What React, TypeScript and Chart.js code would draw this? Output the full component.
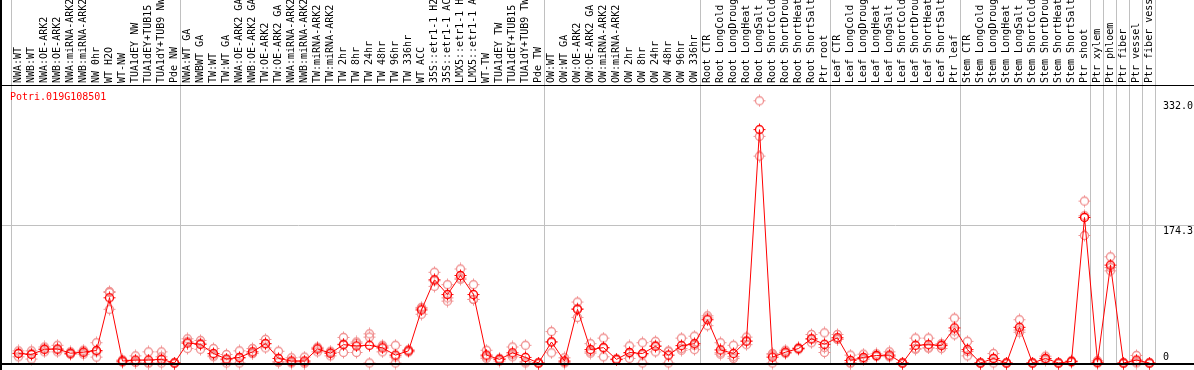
import React, { useEffect, useRef } from "react";
import { Chart, registerables } from "chart.js";

Chart.register(...registerables);

const TITLE = "Potri.019G108501";

const SAMPLES = [
  "NWA:WT", "NWB:WT", "NWA:OE-ARK2", "NWB:OE-ARK2", "NWA:miRNA-ARK2", "NWB:miRNA-ARK2",
  "NW 0hr", "WT H2O", "WT-NW", "TUA1dEY NW", "TUA1dEY+TUB15 NW", "TUA1dY+TUB9 NW", "Pde NW",
  "NWA:WT GA", "NWBWT GA", "TW:WT", "TW:WT GA", "NWA:OE-ARK2 GA", "NWB:OE-ARK2 GA",
  "TW:OE-ARK2", "TW:OE-ARK2 GA", "NWA:miRNA-ARK2", "NWB:miRNA-ARK2", "TW:miRNA-ARK2",
  "TW:miRNA-ARK2", "TW 2hr", "TW 8hr", "TW 24hr", "TW 48hr", "TW 96hr", "TW 336hr", "WT ACC",
  "35S::etr1-1 H2O", "35S::etr1-1 ACC", "LMX5::etr1-1 H2O", "LMX5::etr1-1 ACC", "WT-TW",
  "TUA1dEY TW", "TUA1dEY+TUB15 TW", "TUA1dY+TUB9 TW", "Pde TW",
  "OW:WT", "OW:WT GA", "OW:OE-ARK2", "OW:OE-ARK2 GA", "OW:miRNA-ARK2", "OW:miRNA-ARK2",
  "OW 2hr", "OW 8hr", "OW 24hr", "OW 48hr", "OW 96hr", "OW 336hr",
  "Root CTR", "Root LongCold", "Root LongDrought", "Root LongHeat", "Root LongSalt",
  "Root ShortCold", "Root ShortDrought", "Root ShortHeat", "Root ShortSalt", "Ptr root",
  "Leaf CTR", "Leaf LongCold", "Leaf LongDrought", "Leaf LongHeat", "Leaf LongSalt",
  "Leaf ShortCold", "Leaf ShortDrought", "Leaf ShortHeat", "Leaf ShortSalt", "Ptr leaf",
  "Stem CTR", "Stem LongCold", "Stem LongDrought", "Stem LongHeat", "Stem LongSalt",
  "Stem ShortCold", "Stem ShortDrought", "Stem ShortHeat", "Stem ShortSalt", "Ptr shoot",
  "Ptr xylem", "Ptr phloem", "Ptr fiber", "Ptr vessel", "Ptr fiber vessel",
];

const MEANS = [
  12.0, 10.8, 17.4, 17.8, 12.4, 13.7, 15.8, 82.6, 2.5, 3.7, 3.7, 4.6, 0,
  25.3, 23.7, 12.0, 5.0, 7.1, 14.1, 24.5, 5.8, 2.5, 2.5, 17.8, 12.4, 23.2, 21.6, 22.4,
  19.1, 10.0, 15.4, 67.2, 105.4, 86.7, 110.8, 86.7, 10.0, 4.6, 12.9, 7.1, 0,
  26.6, 2.5, 68.0, 17.0, 19.5, 4.6, 13.3, 12.0, 21.2, 10.0, 22.0, 24.5,
  54.8, 16.6, 12.0, 27.8, 295.5, 7.5, 13.7, 18.3, 30.7, 23.7,
  32.0, 3.3, 7.1, 9.5, 10.0, 0, 22.4, 23.2, 22.0, 44.4,
  17.0, 0, 5.8, 0, 45.2, 0, 5.8, 0, 2.0, 184.3,
  1.0, 124.0, 0, 3.7, 0,
];

const REP_A = [
  15.4, 15.4, 20.3, 22.4, 14.1, 16.2, 25.7, 90.5, 4.0, 9.1, 14.1, 14.1, 0,
  30.7, 28.6, 18.3, 10.8, 15.4, 18.3, 29.9, 14.9, 6.6, 7.5, 19.1, 14.9, 32.4, 26.6, 36.9,
  22.4, 22.4, 17.0, 69.3, 114.9, 99.2, 119.1, 99.2, 16.2, 5.8, 20.3, 22.4, 0,
  39.8, 6.6, 77.2, 24.5, 31.5, 5.0, 21.6, 25.7, 27.4, 14.9, 31.5, 34.0,
  59.8, 25.7, 22.4, 32.8, 332.0, 12.0, 16.2, 19.0, 36.1, 38.2,
  36.1, 10.0, 11.2, 11.6, 14.1, 0, 31.5, 31.5, 24.5, 56.8,
  27.4, 0, 12.0, 0, 54.8, 0, 8.7, 0, 3.0, 205.0,
  3.0, 134.5, 0, 9.6, 0,
];

const REP_B = [
  7.9, 5.0, 14.1, 14.1, 10.8, 11.2, 7.5, 68.0, 1.0, 1.0, 0, 7.9, 0,
  18.3, 17.4, 10.0, 0, 0, 12.0, 19.1, 1.7, 0, 0, 14.1, 9.1, 13.3, 13.3, 0,
  14.1, 0, 14.0, 61.8, 97.1, 78.4, 107.5, 80.5, 7.9, 2.5, 7.9, 0, 0,
  12.9, 0, 57.7, 14.1, 7.9, 4.0, 5.8, 0, 14.1, 0, 16.2, 17.0,
  47.3, 11.2, 5.8, 23.2, 262.0, 0, 12.0, 17.0, 25.7, 13.3,
  30.0, 0, 5.0, 8.5, 8.0, 0, 17.4, 19.1, 18.3, 35.7,
  9.1, 0, 5.5, 0, 39.0, 0, 5.0, 0, 2.0, 161.5,
  0, 116.7, 0, 1.5, 0,
];

const REP_C = [
  12.7, 12.0, 17.8, 17.0, 12.3, 13.7, 14.2, 89.3, 2.5, 1.0, 0, 0, 0,
  27.0, 25.0, 8.0, 4.0, 6.0, 12.0, 24.5, 1.0, 1.0, 0, 20.0, 13.0, 24.0, 25.0, 32.8,
  21.0, 7.6, 15.2, 70.5, 104.0, 82.5, 106.0, 80.5, 6.0, 5.5, 10.5, 1.7, 0,
  27.0, 1.0, 69.0, 12.5, 19.0, 5.0, 12.5, 10.5, 22.0, 15.0, 18.3, 22.5,
  57.0, 13.0, 8.0, 27.5, 287.0, 10.5, 13.0, 19.0, 30.3, 19.6,
  30.0, 0, 5.0, 8.5, 8.0, 0, 18.3, 19.0, 23.2, 40.7,
  14.5, 0, 0, 0, 41.8, 0, 3.7, 0, 1.0, 186.4,
  0, 120.8, 0, 0, 0,
];

// indices of the first sample of each group (and the end), where separators are drawn
const GROUP_BREAKS = [0, 13, 41, 53, 63, 73, 83, 84, 85, 86, 87, 88];
const Y_TICKS = [332.0, 174.3, 0];
const Y_GRID = [174.3];

const FONT = "'DejaVu Sans Mono', monospace";

function makeMarker(color: string): HTMLCanvasElement {
  const c = document.createElement("canvas");
  c.width = 13;
  c.height = 13;
  const g = c.getContext("2d")!;
  g.strokeStyle = color;
  g.lineWidth = 1.3;
  g.beginPath();
  g.arc(6.5, 6.5, 4, 0, Math.PI * 2);
  g.stroke();
  g.lineWidth = 1;
  g.beginPath();
  g.moveTo(6.5, 0.5); g.lineTo(6.5, 2.5);
  g.moveTo(6.5, 10.5); g.lineTo(6.5, 12.5);
  g.moveTo(0.5, 6.5); g.lineTo(2.5, 6.5);
  g.moveTo(10.5, 6.5); g.lineTo(12.5, 6.5);
  g.stroke();
  return c;
}

const framePlugin = {
  id: "frame",
  beforeDraw(chart: any) {
    const { ctx, chartArea, scales } = chart;
    const xs = scales.x;
    const ys = scales.y;
    ctx.save();
    ctx.strokeStyle = "#c0c0c0";
    ctx.lineWidth = 1;
    for (const b of GROUP_BREAKS) {
      const x = Math.round(xs.getPixelForValue(b - 0.5)) - 0.5;
      ctx.beginPath();
      ctx.moveTo(x, 0);
      ctx.lineTo(x, chartArea.bottom);
      ctx.stroke();
    }
    for (const t of Y_GRID) {
      const y = Math.round(ys.getPixelForValue(t)) + 0.5;
      ctx.beginPath();
      ctx.moveTo(0, y);
      ctx.lineTo(chart.width, y);
      ctx.stroke();
    }
    ctx.restore();
  },
  afterDraw(chart: any) {
    const { ctx, chartArea, scales } = chart;
    const ys = scales.y;
    ctx.save();
    ctx.fillStyle = "#000";
    ctx.fillRect(0, chartArea.top, chart.width, 1);
    ctx.fillRect(0, 0, 2, chart.height);
    ctx.fillRect(0, chartArea.bottom, chart.width, 2);
    ctx.font = `10px ${FONT}`;
    ctx.fillStyle = "#ff0000";
    ctx.textAlign = "left";
    ctx.textBaseline = "middle";
    ctx.fillText(TITLE, 10, chartArea.top + 12);
    ctx.fillStyle = "#000";
    for (const t of Y_TICKS) {
      const y = ys.getPixelForValue(t);
      const label = t === 0 ? "0" : t.toFixed(1);
      if (t === 0) {
        ctx.textBaseline = "bottom";
        ctx.fillText(label, chartArea.right + 7, y - 1);
      } else {
        ctx.textBaseline = "top";
        ctx.fillText(label, chartArea.right + 7, y + 1);
      }
    }
    ctx.restore();
  },
};

export default function App() {
  const ref = useRef<HTMLCanvasElement | null>(null);
  useEffect(() => {
    document.body.style.margin = "0";
    const canvas = ref.current!;
    const meanMarker = makeMarker("#ff0000");
    const repMarker = makeMarker("#f09090");
    const repDs = (data: number[]) => ({
      data,
      showLine: false,
      pointStyle: repMarker,
      pointRadius: 6,
      borderColor: "#f09090",
      backgroundColor: "#f09090",
      clip: false as any,
    });
    const chart = new Chart(canvas, {
      type: "line",
      data: {
        labels: SAMPLES,
        datasets: [
          {
            data: MEANS,
            borderColor: "#ff0000",
            backgroundColor: "#ff0000",
            borderWidth: 1,
            tension: 0,
            pointStyle: meanMarker,
            pointRadius: 6,
            clip: false as any,
          },
          repDs(REP_A),
          repDs(REP_B),
          repDs(REP_C),
        ],
      },
      options: {
        animation: false,
        responsive: false,
        events: [],
        layout: { padding: { left: 12, right: 38, top: 0, bottom: 2 } },
        plugins: { legend: { display: false }, tooltip: { enabled: false }, title: { display: false } },
        scales: {
          x: {
            type: "category",
            position: "top",
            offset: true,
            grid: { display: false, drawTicks: false },
            border: { display: false },
            ticks: {
              autoSkip: false,
              minRotation: 90,
              maxRotation: 90,
              padding: 2,
              labelOffset: 11.5,
              color: "#000",
              font: { family: FONT, size: 10 },
            },
            afterFit: (s: any) => {
              s.height = 85;
            },
          },
          y: {
            display: false,
            min: 0,
            max: 352,
          },
        },
      },
      plugins: [framePlugin],
    });
    return () => chart.destroy();
  }, []);
  return (
    <div style={{ width: 1194, height: 370 }}>
      <canvas ref={ref} width={1194} height={370} style={{ display: "block" }} />
    </div>
  );
}
